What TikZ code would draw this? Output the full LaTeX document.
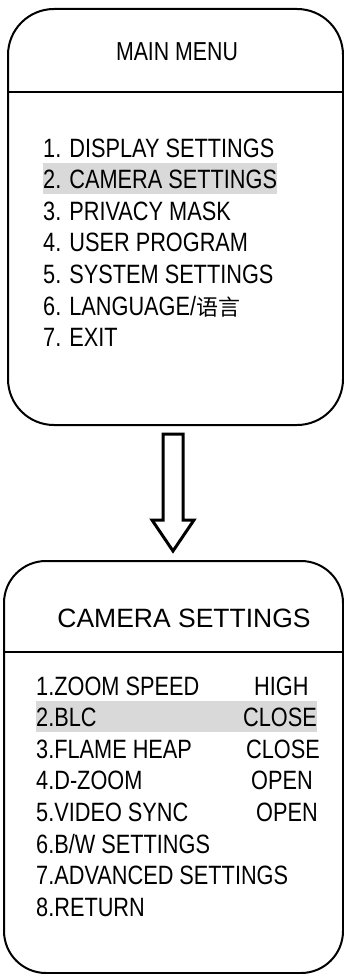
\documentclass[tikz,border=0pt]{standalone}
\usepackage{fontspec}
\setmainfont{Liberation Sans}[FakeStretch=0.82]
\newfontfamily\titlefont{Liberation Sans}
\newfontfamily\cjk{Noto Sans CJK SC}
\usetikzlibrary{positioning}
\definecolor{hilite}{RGB}{217,217,217}

\begin{document}
\begin{tikzpicture}[x=1pt,y=-1pt,
  menubox/.style={draw,line width=2pt,rounded corners=46pt,inner sep=0pt},
  entry/.style={anchor=base west,inner sep=0pt,font=\fontsize{26.5}{30}\selectfont},
  heading/.style={anchor=base,inner sep=0pt,font=\fontsize{26}{30}\selectfont},
  fatarrow/.style={draw,line width=3pt,line join=miter}]
  \useasboundingbox (0,0) rectangle (344,974);

  % Place boxes
  \node [menubox,minimum width=335pt,minimum height=416pt] (main) at (175.5,217) {};
  \node [menubox,minimum width=339pt,minimum height=412pt,rounded corners=42pt] (cam) at (173.5,767) {};
  \draw [line width=2pt] (main.west |- 0,91.5) -- (main.east |- 0,91.5);
  \draw [line width=2pt] (cam.west |- 0,652) -- (cam.east |- 0,652);

  % Highlight bars
  \fill [hilite] (43,163) rectangle (277,194);
  \fill [hilite] (36,701) rectangle (317,732);

  % Main menu
  \node [heading] (mtitle) at (177,60) {MAIN MENU};
  \foreach \txt [count=\i] in {1. DISPLAY SETTINGS,2. CAMERA SETTINGS,3. PRIVACY MASK,
      4. USER PROGRAM,5. SYSTEM SETTINGS,6. LANGUAGE/{\cjk\fontsize{22}{26}\selectfont 语言},7. EXIT}
    \node [entry] (m\i) at (43,{157+31.6*(\i-1)}) {\txt};

  % Camera settings menu
  \node [heading,font=\fontsize{26.5}{30}\selectfont\titlefont] (ctitle) at (184,627) {CAMERA SETTINGS};
  \foreach \txt [count=\i] in {1.ZOOM SPEED,2.BLC,3.FLAME HEAP,4.D-ZOOM,5.VIDEO SYNC,
      6.B/W SETTINGS,7.ADVANCED SETTINGS,8.RETURN}
    \node [entry] (c\i) at (36,{695+31.6*(\i-1)}) {\txt};
  \foreach \val/\xx [count=\i] in {HIGH/254,CLOSE/243,CLOSE/246,OPEN/251,OPEN/256}
    \node [entry] (v\i) at (\xx,{695+31.6*(\i-1)}) {\val};

  % Block arrow
  \coordinate (atop) at (173,434);
  \coordinate (atip) at (173,551);
  \draw [fatarrow] (atop) ++(-10,0) -- ++(0,86) -- ++(-11,0) -- (atip)
    -- ++(21,-31) -- ++(-11,0) -- ++(0,-86) -- cycle;
\end{tikzpicture}
\end{document}
